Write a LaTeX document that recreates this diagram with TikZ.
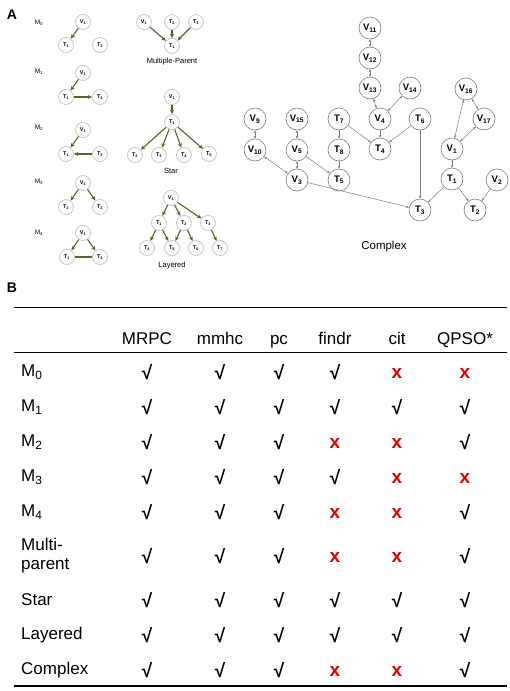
\documentclass[tikz,border=0pt]{standalone}
\usepackage{fontspec}
\setmainfont{Liberation Sans}
\usetikzlibrary{arrows.meta}
\definecolor{olv}{RGB}{88,100,40}
\definecolor{ngray}{RGB}{200,200,200}
\definecolor{cgray}{RGB}{125,125,125}
\definecolor{xred}{RGB}{225,0,0}
\begin{document}
\begin{tikzpicture}[x=1pt,y=-1pt,
  sn/.style={circle,draw=ngray,line width=0.8pt,fill=white,minimum size=15pt,inner sep=0pt,font=\fontsize{5.5}{6}\selectfont\bfseries},
  ga/.style={draw=olv,line width=1.1pt,-{Stealth[length=4.5pt,width=4pt]}},
  gl/.style={draw=olv,line width=1.1pt},
  mlab/.style={font=\fontsize{6.5}{7}\selectfont},
  glab/.style={font=\fontsize{7.5}{9}\selectfont},
  cn/.style={circle,draw=cgray,line width=0.6pt,fill=white,minimum size=22pt,inner sep=0pt,font=\fontsize{9.5}{9.5}\selectfont\bfseries},
  ce/.style={draw=cgray,line width=0.5pt,-{Stealth[length=2.8pt,width=2.4pt]}},
  cb/.style={draw=cgray,line width=0.5pt,{Stealth[length=2.8pt,width=2.4pt]}-{Stealth[length=2.8pt,width=2.4pt]}},
  panel/.style={font=\fontsize{14}{14}\selectfont\bfseries},
  tx/.style={font=\fontsize{17}{19}\selectfont},
  mk/.style={font=\fontsize{19}{19}\selectfont\bfseries},
  rule/.style={line width=0.9pt,black}
]
\path[use as bounding box] (0,0) rectangle (510,691);

% ---------- Panel A ----------
\node[panel] (lA) at (12,15) {A};

% M0
\node[mlab] (m0) at (39,23) {M\textsubscript{0}};
\node[sn] (m0v1) at (83,22) {V\textsubscript{1}};
\node[sn] (m0t1) at (66,45) {T\textsubscript{1}};
\node[sn] (m0t2) at (100,45) {T\textsubscript{2}};
\draw[ga] (m0v1) -- (m0t1);

% M1
\node[mlab] (m1) at (39,72) {M\textsubscript{1}};
\node[sn] (m1v1) at (83,73) {V\textsubscript{1}};
\node[sn] (m1t1) at (66,97) {T\textsubscript{1}};
\node[sn] (m1t2) at (100,97) {T\textsubscript{2}};
\draw[ga] (m1v1) -- (m1t1);
\draw[ga] (m1t1) -- (m1t2);

% M2
\node[mlab] (m2) at (39,128) {M\textsubscript{2}};
\node[sn] (m2v1) at (83,130) {V\textsubscript{1}};
\node[sn] (m2t1) at (66,154) {T\textsubscript{1}};
\node[sn] (m2t2) at (100,154) {T\textsubscript{2}};
\draw[ga] (m2v1) -- (m2t1);
\draw[ga] (m2t2) -- (m2t1);

% M3
\node[mlab] (m3) at (39,182) {M\textsubscript{3}};
\node[sn] (m3v1) at (83,183) {V\textsubscript{1}};
\node[sn] (m3t1) at (66,207) {T\textsubscript{1}};
\node[sn] (m3t2) at (100,207) {T\textsubscript{2}};
\draw[ga] (m3v1) -- (m3t1);
\draw[ga] (m3v1) -- (m3t2);

% M4
\node[mlab] (m4) at (39,233) {M\textsubscript{4}};
\node[sn] (m4v1) at (83,233) {V\textsubscript{1}};
\node[sn] (m4t1) at (67,257) {T\textsubscript{1}};
\node[sn] (m4t2) at (100,257) {T\textsubscript{2}};
\draw[ga] (m4v1) -- (m4t1);
\draw[ga] (m4v1) -- (m4t2);
\draw[gl] (m4t1) -- (m4t2);

% Multiple-Parent
\node[sn] (mpv1) at (144,22) {V\textsubscript{1}};
\node[sn] (mpt2) at (172,22) {T\textsubscript{2}};
\node[sn] (mpt3) at (196,22) {T\textsubscript{3}};
\node[sn] (mpt1) at (172,46) {T\textsubscript{1}};
\draw[ga] (mpv1) -- (mpt1);
\draw[ga] (mpt2) -- (mpt1);
\draw[ga] (mpt3) -- (mpt1);
\node[glab] (mpl) at (172,62) {Multiple-Parent};

% Star
\node[sn] (sv1) at (172,97) {V\textsubscript{1}};
\node[sn] (st1) at (172,122) {T\textsubscript{1}};
\node[sn] (st2) at (135,155) {T\textsubscript{2}};
\node[sn] (st3) at (159,155) {T\textsubscript{3}};
\node[sn] (st4) at (184,155) {T\textsubscript{4}};
\node[sn] (st5) at (209,154) {T\textsubscript{5}};
\draw[ga] (sv1) -- (st1);
\foreach \k in {2,3,4,5} \draw[ga] (st1) -- (st\k);
\node[glab] (sl) at (171,171) {Star};

% Layered
\node[sn] (lv1) at (171,198) {V\textsubscript{1}};
\node[sn] (lt1) at (159,223) {T\textsubscript{1}};
\node[sn] (lt2) at (184,223) {T\textsubscript{2}};
\node[sn] (lt3) at (208,223) {T\textsubscript{3}};
\node[sn] (lt4) at (147,248) {T\textsubscript{4}};
\node[sn] (lt5) at (172,248) {T\textsubscript{5}};
\node[sn] (lt6) at (196,248) {T\textsubscript{6}};
\node[sn] (lt7) at (220,248) {T\textsubscript{7}};
\draw[ga] (lv1) -- (lt1);
\draw[ga] (lv1) -- (lt2);
\draw[ga] (lv1) -- (lt3);
\draw[ga] (lt1) -- (lt4);
\draw[ga] (lt1) -- (lt5);
\draw[ga] (lt2) -- (lt5);
\draw[ga] (lt2) -- (lt6);
\draw[ga] (lt3) -- (lt7);
\node[glab] (ll) at (172,266) {Layered};

% Complex
\node[cn] (c11) at (370,28) {V\textsubscript{11}};
\node[cn] (c12) at (370,58) {V\textsubscript{12}};
\node[cn] (c13) at (370,88) {V\textsubscript{13}};
\node[cn] (c14) at (410,88) {V\textsubscript{14}};
\node[cn] (c9) at (255,119) {V\textsubscript{9}};
\node[cn] (c15) at (297,119) {V\textsubscript{15}};
\node[cn] (ct7) at (339,119) {T\textsubscript{7}};
\node[cn] (c4) at (380,119) {V\textsubscript{4}};
\node[cn] (ct6) at (420,119) {T\textsubscript{6}};
\node[cn] (c10) at (255,150) {V\textsubscript{10}};
\node[cn] (c5) at (297,150) {V\textsubscript{5}};
\node[cn] (ct8) at (339,150) {T\textsubscript{8}};
\node[cn] (ct4) at (380,149) {T\textsubscript{4}};
\node[cn] (c3) at (297,180) {V\textsubscript{3}};
\node[cn] (ct5) at (339,180) {T\textsubscript{5}};
\node[cn] (c16) at (466,89) {V\textsubscript{16}};
\node[cn] (c17) at (484,119) {V\textsubscript{17}};
\node[cn] (c1) at (452,149) {V\textsubscript{1}};
\node[cn] (ct1) at (452,179) {T\textsubscript{1}};
\node[cn] (c2) at (497,180) {V\textsubscript{2}};
\node[cn] (ct3) at (420,210) {T\textsubscript{3}};
\node[cn] (ct2) at (475,210) {T\textsubscript{2}};
\node[font=\fontsize{11.5}{12}\selectfont] (cl) at (384,247) {Complex};

\draw[cb] (c11) -- (c12);
\draw[cb] (c12) -- (c13);
\draw[cb] (c13) -- (c4);
\draw[cb] (c14) -- (c4);
\draw[ce] (c4) -- (ct4);
\draw[ce] (ct7) -- (ct4);
\draw[ce] (ct6) -- (ct4);
\draw[ce] (ct6) -- (ct3);
\draw[cb] (c9) -- (c10);
\draw[cb] (c15) -- (c5);
\draw[ce] (ct7) -- (ct8);
\draw[ce] (ct8) -- (ct5);
\draw[cb] (c5) -- (c3);
\draw[ce] (c5) -- (ct5);
\draw[cb] (c10) -- (c3);
\draw[ce] (c3) -- (ct3);
\draw[cb] (c16) -- (c1);
\draw[cb] (c16) -- (c17);
\draw[cb] (c17) -- (c1);
\draw[ce] (c1) -- (ct1);
\draw[ce] (ct1) -- (ct3);
\draw[ce] (ct1) -- (ct2);
\draw[ce] (c2) -- (ct2);

% ---------- Panel B ----------
\node[panel] (lB) at (12,288) {B};
\coordinate (r1a) at (14,307); \coordinate (r1b) at (507,307);
\coordinate (r2a) at (14,352); \coordinate (r2b) at (507,352);
\coordinate (r3a) at (14,686); \coordinate (r3b) at (507,686);
\draw[rule] (r1a) -- (r1b);
\draw[rule] (r2a) -- (r2b);
\draw[line width=2pt] (r3a) -- (r3b);

\foreach \h/\x [count=\j] in {MRPC/147,mmhc/220,pc/279,findr/335,cit/397,QPSO*/465}
  \node[tx,anchor=base] (h\j) at (\x,344) {\h};

\foreach \y/\lab/\vals [count=\i] in {
  372/M\textsubscript{0}/{1,1,1,1,0,0},
  407/M\textsubscript{1}/{1,1,1,1,1,1},
  442/M\textsubscript{2}/{1,1,1,0,0,1},
  477/M\textsubscript{3}/{1,1,1,1,0,0},
  512/M\textsubscript{4}/{1,1,1,0,0,1},
  556/{Multi-\\parent}/{1,1,1,0,0,1},
  600/Star/{1,1,1,1,1,1},
  635/Layered/{1,1,1,1,1,1},
  670/Complex/{1,1,1,0,0,1}} {
  \node[tx,anchor=west,align=left,inner sep=0pt] (rl\i) at (21,\y) {\lab};
  \foreach \v [count=\j] in \vals {
    \pgfmathsetmacro{\cx}{{147,220,279,335,397,465}[\j-1]}
    \ifnum\v=1
      \node[mk] (c\i-\j) at (\cx,\y) {√};
    \else
      \node[mk,text=xred] (c\i-\j) at (\cx,\y+1) {x};
    \fi
  }
}
\end{tikzpicture}
\end{document}
